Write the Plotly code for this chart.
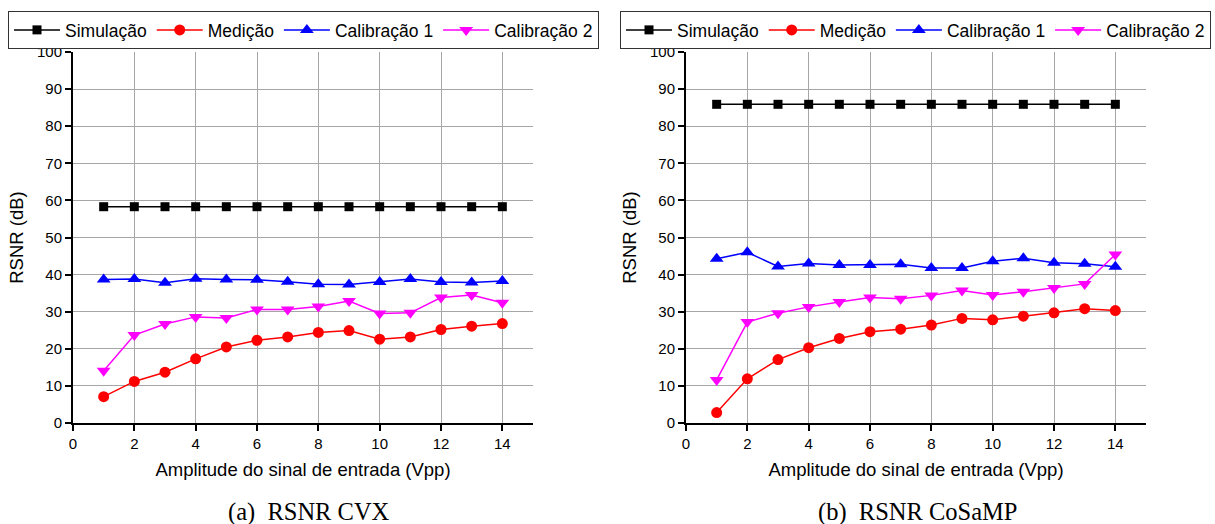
import plotly.graph_objects as go

# ---------------- data ----------------
amplitude = [1, 2, 3, 4, 5, 6, 7, 8, 9, 10, 11, 12, 13, 14]

series_names = ["Simulação", "Medição", "Calibração 1", "Calibração 2"]

# (a) RSNR CVX
cvx_simulacao = [58.3, 58.3, 58.3, 58.3, 58.3, 58.3, 58.3, 58.3, 58.3, 58.3, 58.3, 58.3, 58.3, 58.3]
cvx_medicao = [7.1, 11.2, 13.7, 17.3, 20.5, 22.3, 23.2, 24.4, 24.9, 22.6, 23.2, 25.2, 26.1, 26.8]
cvx_calib1 = [38.7, 38.8, 37.8, 38.9, 38.7, 38.6, 38.1, 37.4, 37.3, 38.0, 38.8, 38.0, 37.9, 38.3]
cvx_calib2 = [14.1, 23.7, 26.7, 28.6, 28.3, 30.6, 30.6, 31.4, 32.9, 29.5, 29.7, 33.8, 34.5, 32.4]

# (b) RSNR CoSaMP
cosamp_simulacao = [85.9, 85.9, 85.9, 85.9, 85.9, 85.9, 85.9, 85.9, 85.9, 85.9, 85.9, 85.9, 85.9, 85.9]
cosamp_medicao = [2.8, 11.9, 17.1, 20.3, 22.8, 24.6, 25.3, 26.4, 28.2, 27.8, 28.8, 29.7, 30.8, 30.3]
cosamp_calib1 = [44.3, 46.0, 42.2, 43.0, 42.6, 42.6, 42.8, 41.8, 41.8, 43.6, 44.4, 43.2, 42.9, 42.1]
cosamp_calib2 = [11.6, 27.2, 29.6, 31.3, 32.6, 33.8, 33.5, 34.4, 35.7, 34.5, 35.4, 36.4, 37.5, 45.4]

x_ticks = [0, 2, 4, 6, 8, 10, 12, 14]
y_ticks = [0, 10, 20, 30, 40, 50, 60, 70, 80, 90, 100]
y_grid = [0, 10, 20, 30, 40, 50, 60, 70, 80, 90]

x_title = "Amplitude do sinal de entrada (Vpp)"
y_title = "RSNR (dB)"
captions = ["(a)  RSNR CVX", "(b)  RSNR CoSaMP"]

# ---------------- style ----------------
colors = ["#000000", "#ff0000", "#0000ff", "#ff00ff"]
symbols = ["square", "circle", "triangle-up", "triangle-down"]
msizes = [9, 11, 12, 12]
FONT = "Liberation Sans, Arial, sans-serif"
GRID = "#a6a6a6"

W, H = 1215, 524
dom_a = [73 / W, 533 / W]
dom_b = [686 / W, 1146 / W]
dom_y = [(H - 423) / H, (H - 52) / H]

fig = go.Figure()

panels = [
    ("x", "y", "legend", [cvx_simulacao, cvx_medicao, cvx_calib1, cvx_calib2]),
    ("x2", "y2", "legend2", [cosamp_simulacao, cosamp_medicao, cosamp_calib1, cosamp_calib2]),
]
for xa, ya, lg, data in panels:
    for name, vals, c, s, ms in zip(series_names, data, colors, symbols, msizes):
        fig.add_trace(go.Scatter(
            x=amplitude, y=vals, name=name, mode="lines+markers",
            line=dict(color=c, width=1.5),
            marker=dict(color=c, symbol=s, size=ms),
            xaxis=xa, yaxis=ya, legend=lg, showlegend=True,
        ))

def xax(dom, anchor):
    return dict(
        domain=dom, anchor=anchor, range=[0, 15], tickvals=x_ticks,
        showgrid=True, gridcolor=GRID, gridwidth=1,
        showline=True, linecolor="#000000", linewidth=2,
        ticks="outside", ticklen=6, tickwidth=1.5, tickcolor="#000000",
        tickfont=dict(family=FONT, size=15, color="#000000"),
        title=dict(text=x_title, font=dict(family=FONT, size=18.5, color="#000000"), standoff=12),
        zeroline=False, fixedrange=True, automargin=False,
    )

def ygrid(dom, anchor):
    return dict(
        domain=dom, anchor=anchor, range=[0, 100], tickvals=y_grid,
        showgrid=True, gridcolor=GRID, gridwidth=1,
        showticklabels=False, ticks="", showline=False, zeroline=False,
        automargin=False,
    )

def ylab(anchor, over):
    return dict(
        overlaying=over, anchor=anchor, side="left", range=[0, 100], tickvals=y_ticks,
        showgrid=False, zeroline=False,
        showline=True, linecolor="#000000", linewidth=2,
        ticks="outside", ticklen=6, tickwidth=1.5, tickcolor="#000000",
        tickfont=dict(family=FONT, size=15, color="#000000"),
        title=dict(text=y_title, font=dict(family=FONT, size=18.5, color="#000000"), standoff=8),
        automargin=False,
    )

legend_common = dict(
    orientation="h", xanchor="left", yanchor="top",
    xref="container", yref="container",
    bgcolor="#ffffff", bordercolor="#333333", borderwidth=1,
    font=dict(family=FONT, size=17.5, color="#000000"),
    itemclick=False, itemdoubleclick=False,
    itemwidth=46, tracegroupgap=0,
)

fig.update_layout(
    width=W, height=H,
    margin=dict(l=0, r=0, t=0, b=0, autoexpand=False),
    paper_bgcolor="#ffffff", plot_bgcolor="#ffffff",
    xaxis=xax(dom_a, "y"),
    yaxis=ygrid(dom_y, "x"),
    xaxis2=xax(dom_b, "y2"),
    yaxis2=ygrid(dom_y, "x2"),
    yaxis3=ylab("x", "y"),
    yaxis4=ylab("x2", "y2"),
    legend=dict(x=8 / W, y=(H - 11) / H, **legend_common),
    legend2=dict(x=620 / W, y=(H - 11) / H, **legend_common),
    showlegend=True,
)

# invisible traces so the overlay label axes render
fig.add_trace(go.Scatter(x=[None], y=[None], xaxis="x", yaxis="y3", showlegend=False, hoverinfo="skip"))
fig.add_trace(go.Scatter(x=[None], y=[None], xaxis="x2", yaxis="y4", showlegend=False, hoverinfo="skip"))

caption_x = [309 / W, 917 / W]
for cap, cx in zip(captions, caption_x):
    fig.add_annotation(
        text=cap, xref="paper", yref="paper",
        x=cx, y=(H - 512) / H,
        xanchor="center", yanchor="middle", showarrow=False,
        font=dict(family="Liberation Serif, Times New Roman, serif", size=24.5, color="#000000"),
    )

fig.write_html("out.html")
